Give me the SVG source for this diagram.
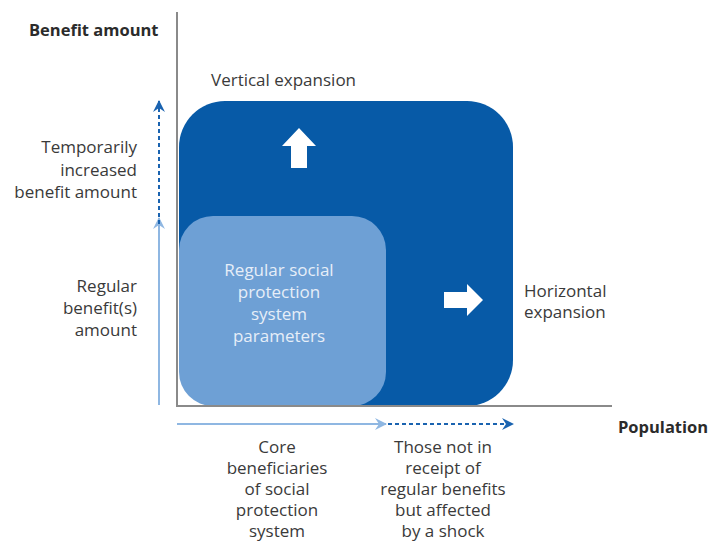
<svg xmlns="http://www.w3.org/2000/svg" width="713" height="542" viewBox="0 0 713 542">
<style>
text{font-family:"Open Sans","Liberation Sans",sans-serif;font-size:17px;fill:#3a3a3a}
.b{font-weight:bold;fill:#2b2b2b;font-size:16.5px}
.r{text-anchor:end}
.m{text-anchor:middle}
.w{fill:#e6eef8}
.axis{stroke:#8a8a8a;stroke-width:2;fill:none}
.light{stroke:#8fb7e2;stroke-width:2;fill:none}
.dark{stroke:#1a63b0;stroke-width:2;fill:none;stroke-dasharray:4 3}
</style>
<defs>
<marker id="ahL" viewBox="0 0 12 12" refX="11" refY="6" markerWidth="12" markerHeight="12" orient="auto" markerUnits="userSpaceOnUse"><path d="M0,0 L12,6 L0,12 L4,6 Z" fill="#8fb7e2"/></marker>
<marker id="ahD" viewBox="0 0 12 12" refX="11" refY="6" markerWidth="12" markerHeight="12" orient="auto" markerUnits="userSpaceOnUse"><path d="M0,0 L12,6 L0,12 L4,6 Z" fill="#1a63b0"/></marker>
</defs>
<rect width="713" height="542" fill="#ffffff"/>
<g id="vertical-expansion">
<rect x="179" y="101" width="334" height="305" rx="46" fill="#075aa7"/>
<path d="M299,128 L316,146 L307,146 L307,168 L291,168 L291,146 L282,146 Z" fill="#ffffff"/>
<path d="M483,300 L467,284 L467,292 L444,292 L444,308 L467,308 L467,316 Z" fill="#ffffff"/>
</g>
<g id="regular-parameters">
<rect x="179" y="216" width="207" height="190" rx="34" fill="#6ea0d5"/>
<text class="m w" x="279" y="276">Regular social</text>
<text class="m w" x="279" y="298">protection</text>
<text class="m w" x="279" y="320">system</text>
<text class="m w" x="279" y="342">parameters</text>
</g>
<g id="connectors">
<path class="axis" d="M177,12 L177,406 L612,406"/>
<line class="light" x1="159" y1="405" x2="159" y2="218" marker-end="url(#ahL)"/>
<line class="dark" x1="159" y1="224" x2="159" y2="101" marker-end="url(#ahD)"/>
<line class="light" x1="177" y1="424" x2="386" y2="424" marker-end="url(#ahL)"/>
<line class="dark" x1="388" y1="424" x2="513" y2="424" marker-end="url(#ahD)"/>
</g>
<g id="labels">
<text class="b" x="29" y="36">Benefit amount</text>
<text x="211" y="86">Vertical expansion</text>
<text class="r" x="137" y="153">Temporarily</text>
<text class="r" x="137" y="176">increased</text>
<text class="r" x="137" y="198">benefit amount</text>
<text class="r" x="137" y="292">Regular</text>
<text class="r" x="137" y="314">benefit(s)</text>
<text class="r" x="137" y="336">amount</text>
<text x="524" y="297">Horizontal</text>
<text x="524" y="318">expansion</text>
<text class="b" x="618" y="433">Population</text>
</g>
<g id="core-beneficiaries">
<text class="m" x="277" y="453">Core</text>
<text class="m" x="277" y="474">beneficiaries</text>
<text class="m" x="277" y="495">of social</text>
<text class="m" x="277" y="516">protection</text>
<text class="m" x="277" y="537">system</text>
</g>
<g id="affected">
<text class="m" x="443" y="453">Those not in</text>
<text class="m" x="443" y="474">receipt of</text>
<text class="m" x="443" y="495">regular benefits</text>
<text class="m" x="443" y="516">but affected</text>
<text class="m" x="443" y="537">by a shock</text>
</g>
</svg>
